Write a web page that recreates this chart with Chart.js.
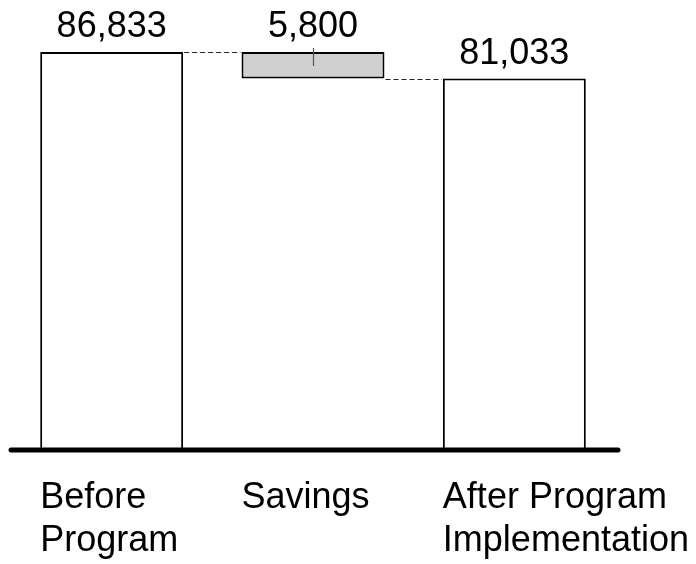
<!DOCTYPE html>
<html>
<head>
<meta charset="utf-8">
<script src="https://cdn.jsdelivr.net/npm/chart.js@4.4.1/dist/chart.umd.min.js"></script>
<style>
  body { margin: 0; background: #fff; }
  canvas { display: block; }
</style>
</head>
<body>
<canvas id="cascata" width="696" height="564"></canvas>
<script>
// categorie (una riga per ogni riga di testo sotto la barra)
var categorie = [['Before', 'Program'], ['Savings'], ['After Program', 'Implementation']];
var prima = 86833;
var risparmio = 5800;
var dopo = prima - risparmio;
var etichette = ['86,833', '5,800', '81,033'];

// barre fluttuanti: [inizio, fine]
var valori = [[0, prima], [dopo, prima], [0, dopo]];
var riempimento = ['#ffffff', '#d0d0d0', '#ffffff'];

var font = '"Liberation Sans", Arial, sans-serif';

var decorazioni = {
    id: 'decorazioni',
    afterDatasetsDraw: function(chart) {
        var ctx = chart.ctx;
        var barre = chart.getDatasetMeta(0).data;
        var y = chart.scales.y;
        var area = chart.chartArea;

        // linee tratteggiate di collegamento tra le barre
        ctx.save();
        ctx.strokeStyle = '#222';
        ctx.lineWidth = 1;
        ctx.setLineDash([5, 3]);
        for (var i = 0; i < barre.length - 1; i++) {
            var livello = valori[i][0] === 0 ? valori[i][1] : valori[i][0];
            var py = Math.round(y.getPixelForValue(livello)) + 0.5;
            ctx.beginPath();
            ctx.moveTo(barre[i].x + barre[i].width / 2 + 1, py);
            ctx.lineTo(barre[i + 1].x - barre[i + 1].width / 2 - 1, py);
            ctx.stroke();
        }
        ctx.restore();

        // piccola tacca al centro della barra dei risparmi
        var b = barre[1];
        ctx.save();
        ctx.strokeStyle = '#555';
        ctx.lineWidth = 1.2;
        ctx.beginPath();
        ctx.moveTo(Math.round(b.x) + 0.5, y.getPixelForValue(prima) - 4);
        ctx.lineTo(Math.round(b.x) + 0.5, y.getPixelForValue(prima) + 14);
        ctx.stroke();
        ctx.restore();

        // asse orizzontale spesso
        var zero = y.getPixelForValue(0);
        ctx.save();
        ctx.strokeStyle = '#000';
        ctx.lineWidth = 5;
        ctx.lineCap = 'round';
        ctx.beginPath();
        ctx.moveTo(area.left, zero);
        ctx.lineTo(area.right + 3, zero);
        ctx.stroke();
        ctx.restore();

        // valori sopra le barre e categorie sotto, allineate a sinistra
        ctx.save();
        ctx.fillStyle = '#000';
        ctx.font = '36px ' + font;
        ctx.textBaseline = 'alphabetic';
        for (var j = 0; j < barre.length; j++) {
            var bar = barre[j];
            var cima = y.getPixelForValue(valori[j][1]);
            ctx.textAlign = 'center';
            ctx.fillText(etichette[j], bar.x, cima - 15);
            ctx.textAlign = 'left';
            for (var r = 0; r < categorie[j].length; r++) {
                ctx.fillText(categorie[j][r], bar.x - bar.width / 2, zero + 58 + r * 43);
            }
        }
        ctx.restore();
    }
};

var grafico = new Chart(document.getElementById('cascata'), {
    type: 'bar',
    data: {
        labels: categorie,
        datasets: [{
            data: valori,
            backgroundColor: riempimento,
            borderColor: '#000',
            borderWidth: 2,
            borderSkipped: false,
            barPercentage: 0.71,
            categoryPercentage: 1
        }]
    },
    options: {
        responsive: false,
        animation: false,
        layout: { padding: { left: 11, right: 81, top: 52, bottom: 114 } },
        plugins: { legend: { display: false }, tooltip: { enabled: false } },
        scales: {
            x: { display: false },
            y: { display: false, min: 0, max: prima }
        }
    },
    plugins: [decorazioni]
});
</script>
</body>
</html>
